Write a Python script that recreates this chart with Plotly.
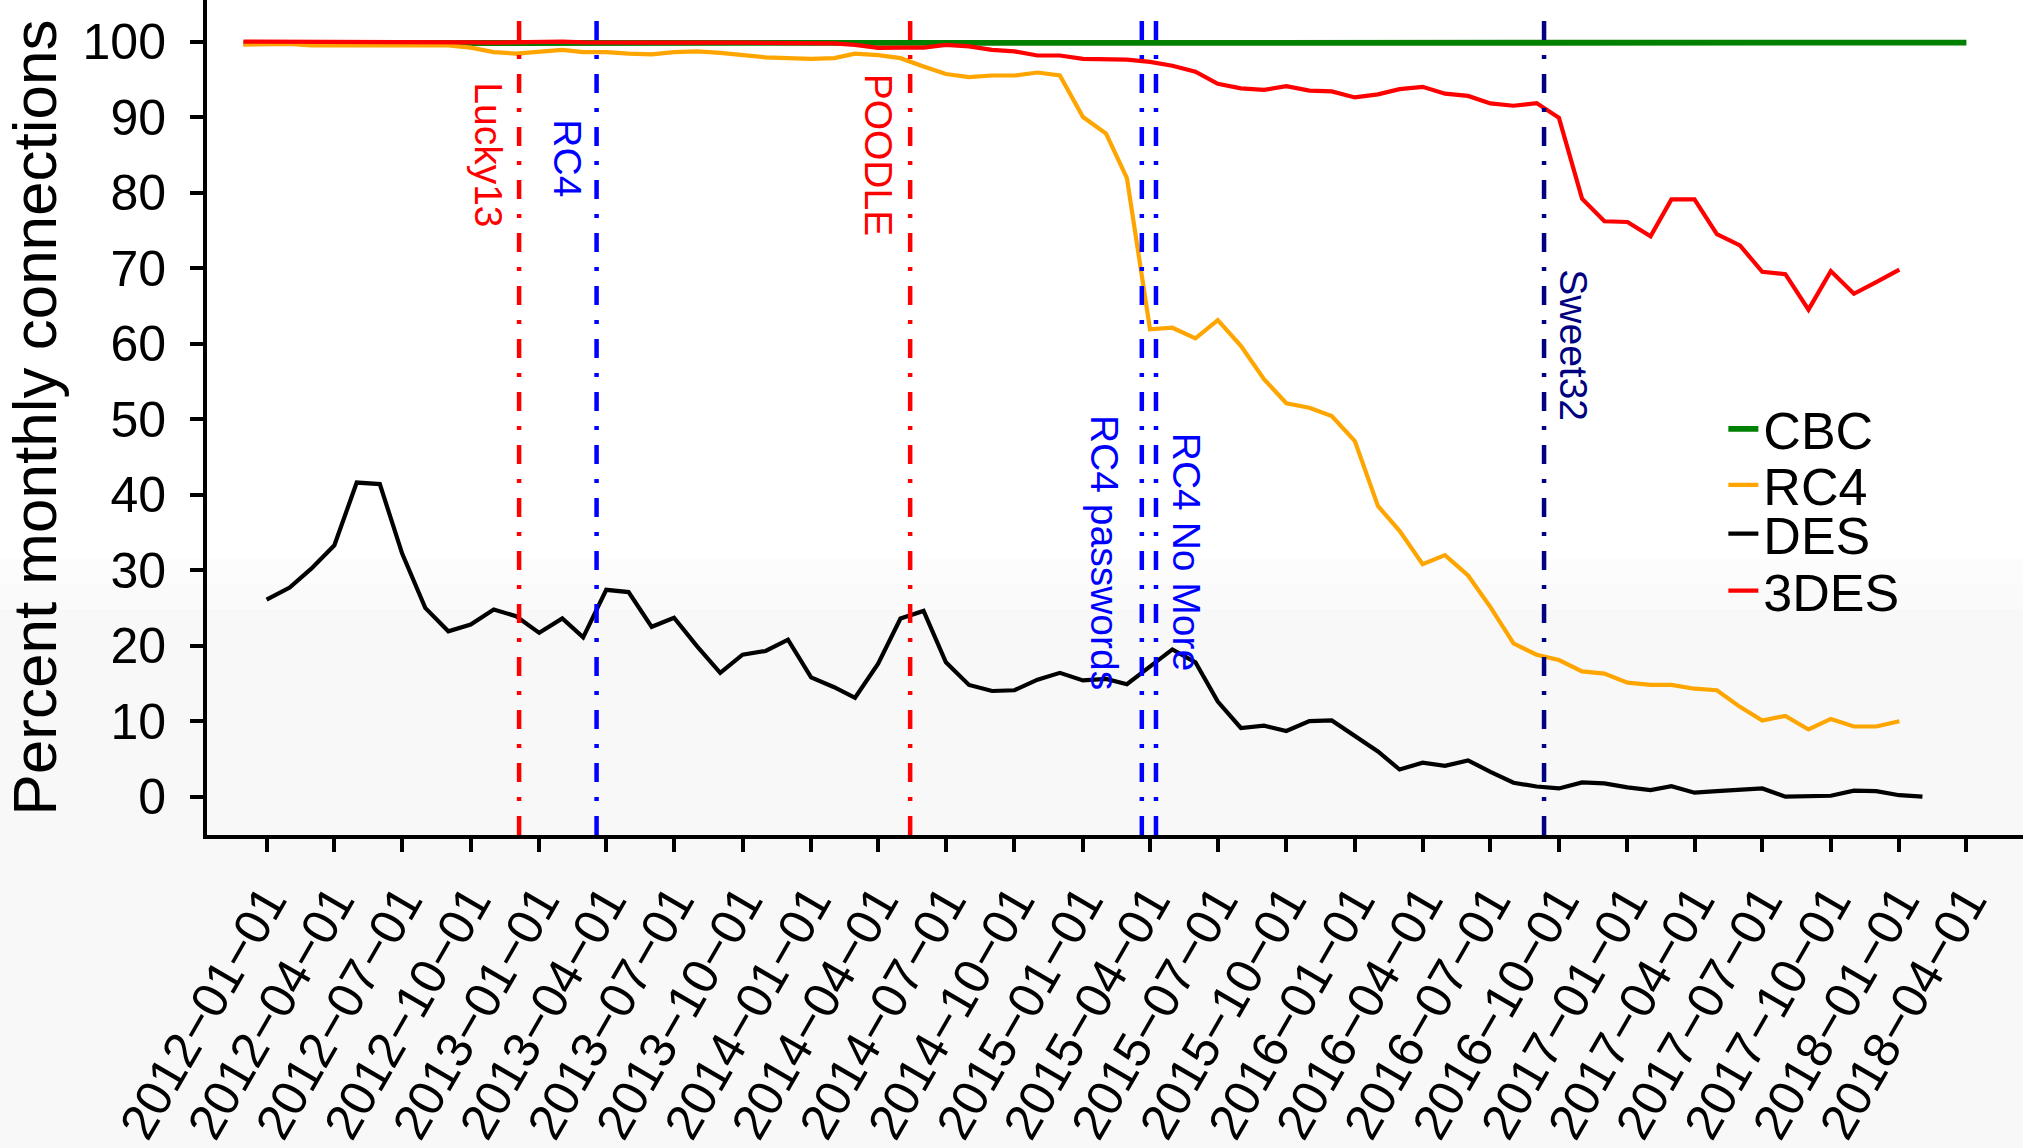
import pandas as pd
import plotly.graph_objects as go

# ---------------- data (monthly, percent of connections) ----------------
cbc_start = "2011-12-01"
cbc = [99.8, 99.8, 99.7, 99.7, 99.7, 99.7, 99.7, 99.7, 99.7, 99.7,
       99.7, 99.7, 99.7, 99.7, 99.7, 99.7, 99.7, 99.7, 99.7, 99.7,
       99.7, 99.7, 99.7, 99.7, 99.7, 99.7, 99.7, 99.7, 99.7, 99.7,
       99.7, 99.7, 99.7, 99.7, 99.7, 99.7, 99.7, 99.7, 99.7, 99.7,
       99.7, 99.7, 99.7, 99.7, 99.7, 99.7, 99.7, 99.7, 99.7, 99.7,
       99.7, 99.7, 99.7, 99.7, 99.7, 99.7, 99.7, 99.7, 99.7, 99.7,
       99.7, 99.7, 99.7, 99.7, 99.7, 99.7, 99.7, 99.7, 99.7, 99.75,
       99.75, 99.75, 99.8, 99.8, 99.8, 99.85, 99.85]

rc4_start = "2011-12-01"
rc4 = [99.6, 99.6, 99.7, 99.5, 99.5, 99.6, 99.6, 99.6, 99.6, 99.5,
       99.2, 98.6, 98.4, 98.6, 98.9, 98.6, 98.6, 98.4, 98.3, 98.6,
       98.7, 98.5, 98.2, 97.9, 97.8, 97.7, 97.8, 98.4, 98.2, 97.8,
       96.7, 95.7, 95.3, 95.5, 95.5, 95.9, 95.5, 90.0, 87.8, 81.9,
       61.9, 62.1, 60.7, 63.1, 59.7, 55.3, 52.1, 51.5, 50.4, 47.1,
       38.5, 35.2, 30.8, 32.0, 29.3, 25.1, 20.3, 18.8, 18.1, 16.6,
       16.3, 15.1, 14.8, 14.8, 14.3, 14.1, 11.9, 10.1, 10.7, 8.9,
       10.3, 9.3, 9.3, 10.0]

des_start = "2012-01-01"
des = [26.1, 27.7, 30.2, 33.3, 41.6, 41.4, 32.2, 25.0, 21.9, 22.8,
       24.8, 23.9, 21.7, 23.6, 21.1, 27.4, 27.1, 22.5, 23.7, 19.9,
       16.4, 18.8, 19.3, 20.8, 15.8, 14.5, 13.1, 17.6, 23.6, 24.6,
       17.8, 14.8, 14.0, 14.1, 15.5, 16.4, 15.4, 15.6, 14.9, 17.2,
       19.5, 17.8, 12.6, 9.1, 9.4, 8.7, 10.0, 10.1, 8.1, 6.0,
       3.6, 4.5, 4.1, 4.8, 3.3, 1.85, 1.35, 1.1, 1.9, 1.76,
       1.23, 0.87, 1.4, 0.53, 0.74, 0.96, 1.1, 0.0, 0.1, 0.13,
       0.8, 0.74, 0.2, 0.0]

tdes_start = "2011-12-01"
tdes = [100.0, 100.0, 100.0, 99.9, 99.9, 99.9, 99.9, 99.95, 100.0, 100.0,
        99.9, 99.85, 99.9, 100.0, 100.0, 99.9, 99.85, 99.85, 99.85, 99.85,
        99.9, 99.85, 99.85, 99.8, 99.8, 99.8, 99.75, 99.55, 99.15, 99.2,
        99.2, 99.55, 99.35, 98.9, 98.7, 98.15, 98.15, 97.7, 97.7, 97.6,
        97.3, 96.8, 96.0, 94.4, 93.8, 93.6, 94.1, 93.5, 93.4, 92.6,
        93.0, 93.7, 94.0, 93.1, 92.8, 91.8, 91.5, 91.85, 89.9, 79.2,
        76.2, 76.1, 74.2, 79.1, 79.1, 74.5, 73.0, 69.5, 69.2, 64.5,
        69.6, 66.6, 68.15, 69.8]

# events
event_names = ["Lucky13", "RC4", "POODLE", "RC4 passwords", "RC4 No More", "Sweet32"]
event_dates = ["2012-12-05", "2013-03-19", "2014-05-14", "2015-03-21", "2015-04-09", "2016-09-11"]
event_colors = ["#FF0000", "#0000FF", "#FF0000", "#0000FF", "#0000FF", "#000080"]
label_dates = ["2012-10-25", "2013-02-08", "2014-04-01", "2015-01-29", "2015-05-21", "2016-10-21"]
label_y = [85.0, 84.6, 85.0, 32.3, 32.4, 59.8]

tick_dates = list(pd.date_range("2012-01-01", "2018-04-01", freq="QS").strftime("%Y-%m-%d"))
tick_text = [d.replace("-", "\u2212") for d in tick_dates]
y_ticks = list(range(0, 101, 10))


def months(start, n):
    return pd.date_range(start, periods=n, freq="MS")


FONT = "Liberation Sans, Arial, Helvetica, sans-serif"
PLOT_H = 836.7  # plot area height in px (for legend placement)

fig = go.Figure()
fig.add_trace(go.Scatter(x=months(cbc_start, len(cbc)), y=cbc, mode="lines", name="CBC",
                         line=dict(color="#008000", width=5.8), legend="legend"))
fig.add_trace(go.Scatter(x=months(rc4_start, len(rc4)), y=rc4, mode="lines", name="RC4",
                         line=dict(color="#FFA500", width=4.2), legend="legend2"))
fig.add_trace(go.Scatter(x=months(des_start, len(des)), y=des, mode="lines", name="DES",
                         line=dict(color="#000000", width=4.2), legend="legend3"))
fig.add_trace(go.Scatter(x=months(tdes_start, len(tdes)), y=tdes, mode="lines", name="3DES",
                         line=dict(color="#FF0000", width=4.2), legend="legend4"))

shapes = [
    dict(type="rect", xref="paper", yref="paper", x0=-0.2, x1=1.1, y0=-0.6, y1=(PLOT_H - 610) / PLOT_H,
         fillcolor="#f8f8f8", line=dict(width=0), layer="below"),
    dict(type="rect", xref="paper", yref="paper", x0=-0.2, x1=1.1, y0=(PLOT_H - 610) / PLOT_H,
         y1=(PLOT_H - 585) / PLOT_H, fillcolor="#fafafa", line=dict(width=0), layer="below"),
    dict(type="rect", xref="paper", yref="paper", x0=-0.2, x1=1.1, y0=(PLOT_H - 585) / PLOT_H,
         y1=(PLOT_H - 560) / PLOT_H, fillcolor="#fcfcfc", line=dict(width=0), layer="below"),
]
for d, c in zip(event_dates, event_colors):
    shapes.append(dict(type="line", xref="x", yref="paper", x0=d, x1=d, y0=0, y1=0.99,
                       line=dict(color=c, width=4.5, dash="19px,15px,4px,15px"), layer="above"))

annotations = []
for name, c, ld, ly in zip(event_names, event_colors, label_dates, label_y):
    annotations.append(dict(x=ld, y=ly, xref="x", yref="y", text=name, showarrow=False,
                            textangle=90, xanchor="center", yanchor="middle",
                            font=dict(family=FONT, size=39, color=c)))

legend_rows = [430, 486, 535, 592]  # pixel centres of the legend rows
leg_common = dict(x=0.835, xanchor="left", yanchor="middle", bgcolor="rgba(0,0,0,0)",
                  font=dict(family=FONT, size=52, color="black"))

fig.update_layout(
    width=2023, height=1148,
    margin=dict(l=207, r=0, t=0, b=311),
    paper_bgcolor="white", plot_bgcolor="rgba(0,0,0,0)",
    font=dict(family=FONT, color="black"),
    shapes=shapes, annotations=annotations,
    showlegend=True,
    legend=dict(y=(PLOT_H - legend_rows[0]) / PLOT_H, **leg_common),
    legend2=dict(y=(PLOT_H - legend_rows[1]) / PLOT_H, **leg_common),
    legend3=dict(y=(PLOT_H - legend_rows[2]) / PLOT_H, **leg_common),
    legend4=dict(y=(PLOT_H - legend_rows[3]) / PLOT_H, **leg_common),
)
fig.update_xaxes(
    type="date", range=["2011-10-13", "2018-06-16"],
    tickvals=tick_dates, ticktext=tick_text, tickangle=-60,
    tickfont=dict(family=FONT, size=50, color="black"),
    showgrid=False, zeroline=False,
    showline=True, linecolor="black", linewidth=4,
    ticks="outside", ticklen=13, tickwidth=3.5, tickcolor="black",
)
fig.update_yaxes(
    range=[-5.07, 105.5], tickvals=y_ticks,
    tickfont=dict(family=FONT, size=50, color="black"),
    showgrid=False, zeroline=False,
    showline=True, linecolor="black", linewidth=4,
    ticks="outside", ticklen=13, tickwidth=3.5, tickcolor="black",
    ticklabelstandoff=14,
    title=dict(text="Percent monthly connections", font=dict(family=FONT, size=62, color="black"),
               standoff=24),
)

fig.write_html("out.html")
